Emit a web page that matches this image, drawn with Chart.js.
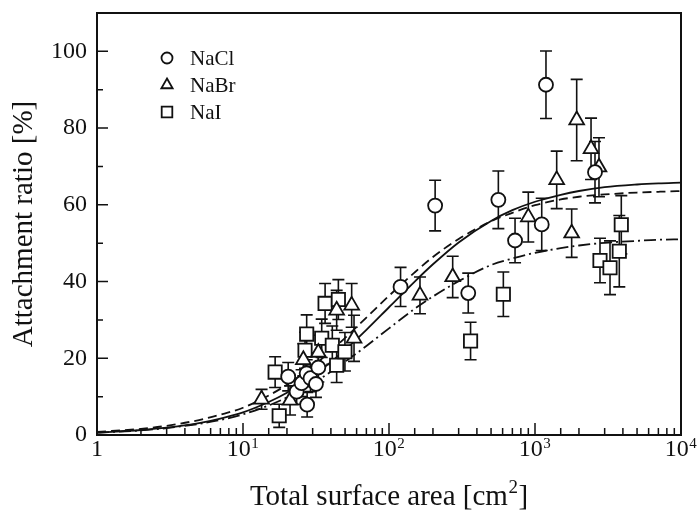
<!DOCTYPE html>
<html>
<head>
<meta charset="utf-8">
<script src="https://cdn.jsdelivr.net/npm/chart.js@4.4.1/dist/chart.umd.min.js"></script>
<style>
  body { margin: 0; background: #fff; }
  #wrap { width: 699px; height: 510px; }
</style>
</head>
<body>
<div id="wrap"><canvas id="ratioChart" width="699" height="510"></canvas></div>
<script>
// measured points (surface area in cm2, attachment ratio in %, +/- error)
const naclX = [20.4, 23.3, 25.2, 27.3, 27.5, 29.0, 31.6, 32.8, 120, 207, 349, 561, 730, 1112, 1189, 2576];
const naclY = [15.2, 11.3, 13.5, 16.1, 7.9, 14.8, 13.3, 17.6, 38.6, 59.8, 37.0, 61.3, 50.7, 54.9, 91.3, 68.5];
const naclErr = [3.7, 3.3, 3.5, 3.5, 3.2, 3.5, 3.5, 3.8, 5.1, 6.6, 5.2, 7.5, 5.8, 6.8, 8.8, 8.0];

const nabrX = [13.4, 21.0, 25.9, 32.8, 43.8, 55.5, 57.6, 163, 273, 900, 1408, 1783, 1930, 2420, 2743];
const nabrY = [9.3, 9.0, 19.6, 21.5, 32.5, 33.8, 25.2, 36.4, 41.2, 56.8, 66.5, 52.6, 82.1, 74.6, 69.8];
const nabrErr = [2.6, 3.8, 4.2, 4.5, 5.2, 5.7, 6.0, 4.8, 5.4, 6.5, 7.5, 6.3, 10.6, 8.0, 7.7];

const naiX = [16.6, 17.7, 26.6, 27.3, 34.6, 36.5, 40.9, 43.8, 45.0, 49.9, 362, 607, 2787, 3264, 3779, 3900];
const naiY = [16.4, 5.0, 22.1, 26.3, 25.2, 34.3, 23.4, 18.2, 35.3, 21.7, 24.5, 36.7, 45.5, 43.6, 47.9, 54.8];
const naiErr = [4.0, 3.0, 4.7, 5.0, 5.0, 5.2, 5.0, 4.5, 5.2, 5.0, 4.9, 5.8, 5.8, 7.0, 9.3, 7.6];

// fitted curves
const fitX = [1, 2, 3, 5, 7, 10, 15, 20, 30, 50, 70, 100, 150, 200, 300, 500, 700, 1000, 1500, 2000, 3000, 5000, 7000, 10000];
const fitSolid = [0.6, 1.3, 1.9, 3.1, 4.3, 5.9, 8.6, 11.0, 15.3, 22.2, 27.4, 33.3, 40.0, 44.5, 50.2, 55.8, 58.6, 60.8, 62.6, 63.6, 64.6, 65.3, 65.6, 65.8];
const fitDashed = [0.8, 1.6, 2.4, 3.9, 5.3, 7.1, 10.3, 13.1, 17.9, 25.3, 30.6, 36.3, 42.4, 46.4, 51.1, 55.7, 57.9, 59.9, 61.4, 62.1, 62.7, 63.2, 63.4, 63.6];
const fitDashDot = [0.6, 1.2, 1.8, 2.9, 3.9, 5.4, 7.7, 9.8, 13.4, 19.1, 23.2, 27.8, 32.9, 36.1, 40.1, 44.3, 46.0, 47.5, 48.7, 49.4, 50.1, 50.6, 50.9, 51.0];

// x tick labels as [base, exponent]
const xTickLabels = { 1: ['1', ''], 10: ['10', '1'], 100: ['10', '2'], 1000: ['10', '3'], 10000: ['10', '4'] };
const yTickLabels = [0, 20, 40, 60, 80, 100];

const ink = '#111';
const serif = '"Liberation Serif", "DejaVu Serif", serif';

function pts(xs, ys) {
    return xs.map((x, i) => ({ x: x, y: ys[i] }));
}

function markerSet(label, xs, ys, errs, style, radius) {
    return {
        label: label,
        data: pts(xs, ys),
        errors: errs,
        pointStyle: style,
        pointRadius: radius,
        pointBorderWidth: 1.8,
        pointBorderColor: ink,
        pointBackgroundColor: '#fff',
        showLine: false,
        order: 0
    };
}

function curveSet(ys, dash) {
    return {
        data: pts(fitX, ys),
        showLine: true,
        pointRadius: 0,
        borderColor: ink,
        borderWidth: 1.8,
        borderDash: dash,
        cubicInterpolationMode: 'monotone',
        order: 1
    };
}

// text with a raised exponent, centred on cx
function supText(ctx, base, sup, cx, baseY, size, supSize, rise, after) {
    after = after || '';
    ctx.font = size + 'px ' + serif;
    const wBase = ctx.measureText(base).width;
    const wAfter = ctx.measureText(after).width;
    ctx.font = supSize + 'px ' + serif;
    const wSup = sup ? ctx.measureText(sup).width + 1 : 0;
    let x = cx - (wBase + wSup + wAfter) / 2;
    ctx.textAlign = 'left';
    ctx.textBaseline = 'alphabetic';
    ctx.font = size + 'px ' + serif;
    ctx.fillText(base, x, baseY);
    x += wBase;
    if (sup) {
        ctx.font = supSize + 'px ' + serif;
        ctx.fillText(sup, x + 0.5, baseY - rise);
        x += wSup;
    }
    if (after) {
        ctx.font = size + 'px ' + serif;
        ctx.fillText(after, x, baseY);
    }
}

// error bars go under the markers
const errorBars = {
    id: 'errorBars',
    beforeDatasetsDraw(chart) {
        const ctx = chart.ctx;
        const xs = chart.scales.x, ys = chart.scales.y;
        ctx.save();
        ctx.strokeStyle = ink;
        ctx.lineWidth = 1.6;
        chart.data.datasets.forEach(ds => {
            if (!ds.errors) return;
            ds.data.forEach((p, i) => {
                const px = xs.getPixelForValue(p.x);
                const top = ys.getPixelForValue(p.y + ds.errors[i]);
                const bot = ys.getPixelForValue(p.y - ds.errors[i]);
                ctx.beginPath();
                ctx.moveTo(px, top); ctx.lineTo(px, bot);
                ctx.moveTo(px - 6, top); ctx.lineTo(px + 6, top);
                ctx.moveTo(px - 6, bot); ctx.lineTo(px + 6, bot);
                ctx.stroke();
            });
        });
        ctx.restore();
    }
};

// box, inward ticks, x labels with exponents and the legend in the corner
const frameAndLegend = {
    id: 'frameAndLegend',
    afterDraw(chart) {
        const ctx = chart.ctx;
        const a = chart.chartArea;
        const xs = chart.scales.x, ys = chart.scales.y;
        ctx.save();
        ctx.strokeStyle = ink;
        ctx.lineWidth = 1.5;
        ctx.beginPath();
        xs.ticks.forEach(t => {
            const lg = Math.log10(t.value);
            if (t.value <= 1 || t.value >= 10000) return;
            const major = Math.abs(lg - Math.round(lg)) < 1e-9;
            const px = xs.getPixelForValue(t.value);
            ctx.moveTo(px, a.bottom);
            ctx.lineTo(px, a.bottom - (major ? 12 : 7));
        });
        ys.ticks.forEach(t => {
            if (t.value <= 0 || t.value >= 110) return;
            const py = ys.getPixelForValue(t.value);
            ctx.moveTo(a.left, py);
            ctx.lineTo(a.left + (t.value % 20 === 0 ? 11 : 6), py);
        });
        ctx.stroke();
        ctx.lineWidth = 2;
        ctx.strokeRect(a.left, a.top, a.right - a.left, a.bottom - a.top);

        ctx.fillStyle = ink;
        xs.ticks.forEach(t => {
            const lab = xTickLabels[t.value];
            if (!lab) return;
            supText(ctx, lab[0], lab[1], xs.getPixelForValue(t.value), a.bottom + 21, 24, 15, 8);
        });
        supText(ctx, 'Total surface area [cm', '2', (a.left + a.right) / 2, 505, 29, 19, 12, ']');

        const rows = [['NaCl', 'circle', 5.5, 58], ['NaBr', 'triangle', 6.5, 85], ['NaI', 'rect', 7.5, 112]];
        ctx.font = '21px ' + serif;
        ctx.textBaseline = 'middle';
        ctx.textAlign = 'left';
        rows.forEach(r => {
            ctx.fillStyle = '#fff';
            ctx.strokeStyle = ink;
            ctx.lineWidth = 1.8;
            Chart.helpers.drawPoint(ctx, { pointStyle: r[1], radius: r[2], rotation: 0, borderWidth: 1.8 }, 167, r[3]);
            ctx.fillStyle = ink;
            ctx.fillText(r[0], 190, r[3] + 1);
        });
        ctx.restore();
    }
};

new Chart(document.getElementById('ratioChart'), {
    type: 'scatter',
    data: {
        datasets: [
            markerSet('NaCl', naclX, naclY, naclErr, 'circle', 7),
            markerSet('NaBr', nabrX, nabrY, nabrErr, 'triangle', 8.5),
            markerSet('NaI', naiX, naiY, naiErr, 'rect', 9.4),
            curveSet(fitSolid, []),
            curveSet(fitDashed, [9, 5]),
            curveSet(fitDashDot, [12, 4, 2, 4])
        ]
    },
    options: {
        responsive: false,
        animation: false,
        layout: { padding: { left: 0, top: 13, right: 18, bottom: 0 } },
        plugins: {
            legend: { display: false },
            tooltip: { enabled: false }
        },
        scales: {
            x: {
                type: 'logarithmic',
                min: 1,
                max: 10000,
                grid: { display: false, drawTicks: false },
                border: { display: false },
                ticks: {
                    autoSkip: false,
                    maxRotation: 0,
                    callback: () => ''
                },
                afterFit: s => {
                    s.height = 75;
                    s.paddingLeft = 0;
                    s.paddingRight = 0;
                }
            },
            y: {
                min: 0,
                max: 110,
                grid: { display: false, drawTicks: false },
                border: { display: false },
                ticks: {
                    stepSize: 10,
                    autoSkip: false,
                    padding: 10,
                    color: ink,
                    font: { family: serif, size: 24 },
                    callback: v => yTickLabels.includes(v) ? String(v) : ''
                },
                title: {
                    display: true,
                    text: 'Attachment ratio [%]',
                    color: ink,
                    padding: { top: 7, bottom: 0 },
                    font: { family: serif, size: 29 }
                },
                afterFit: s => {
                    s.width = 97;
                    s.paddingTop = 0;
                    s.paddingBottom = 0;
                }
            }
        }
    },
    plugins: [errorBars, frameAndLegend]
});
</script>
</body>
</html>
